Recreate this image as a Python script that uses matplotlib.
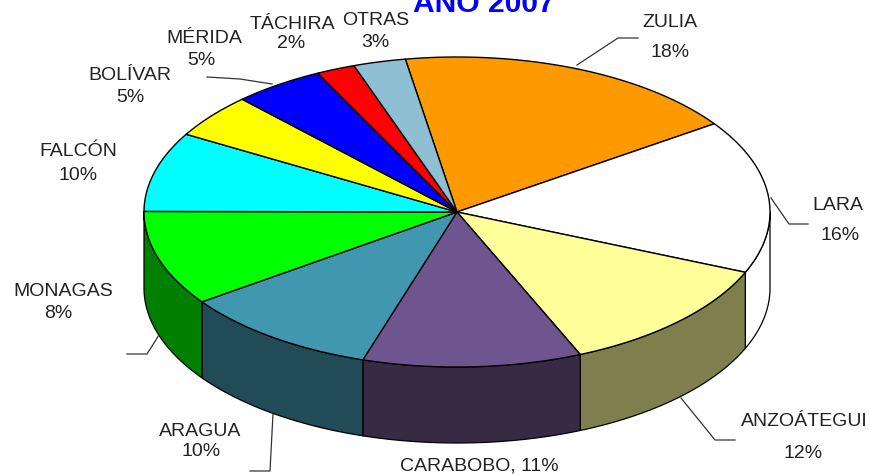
"""3D-looking pie of states, year 2007, drawn on a pixel-sized axes."""
import matplotlib
matplotlib.use("Agg")

import numpy as np
import matplotlib.pyplot as plt

plt.rcParams["font.family"] = ["Liberation Sans", "DejaVu Sans"]

STATES = ["ZULIA", "LARA", "ANZOÁTEGUI", "CARABOBO", "ARAGUA", "MONAGAS",
          "FALCÓN", "BOLÍVAR", "MÉRIDA", "TÁCHIRA", "OTRAS"]
PRINTED_PCT = [18, 16, 12, 11, 10, 8, 10, 5, 5, 2, 3]
# slice sizes as drawn, they differ a little from the printed labels
SLICE_SHARE = [18, 16, 12.2, 11.3, 10.3, 9.9, 8.3, 4.6, 4.7, 2, 2.7]
TOP_COLORS = ["#FF9900", "#FFFFFF", "#FFFF99", "#6F5590", "#4196B0", "#00FF00",
              "#00FFFF", "#FFFF00", "#0000FF", "#FF0000", "#8FBFD3"]
SIDE_COLORS = ["#7F4C00", "#FFFFFF", "#7F7F4D", "#382A45", "#224B58", "#007F00",
               "#007F7F", "#7F7F00", "#00007F", "#7F0000", "#48606A"]

CX, CY = 457, 212      # pie centre, px
RX, RY = 313, 155      # top ellipse radii
DEPTH = 76             # wall height
START_DEG = 99.5       # slices run clockwise from here

LABEL_POS = {          # name xy, pct xy
    "ZULIA": ((670, 22), (670, 52)),
    "LARA": ((838, 206), (840, 235)),
    "ANZOÁTEGUI": ((804, 422), (803, 453)),
    "ARAGUA": ((200, 431), (201, 451)),
    "MONAGAS": ((63, 292), (58, 314)),
    "FALCÓN": ((78, 152), (78, 176)),
    "BOLÍVAR": ((130, 75), (130, 97)),
    "MÉRIDA": ((204, 38), (201, 60)),
    "TÁCHIRA": ((292, 24), (291, 43)),
    "OTRAS": ((376, 20), (375, 42)),
}
LEADERS = [
    [(577, 65), (618, 38), (638, 38)],
    [(771, 198), (789, 224), (808, 224)],
    [(681, 398), (715, 440), (735, 440)],
    [(273, 414), (270, 471), (250, 471)],
    [(159, 335), (147, 354), (127, 354)],
    [(207, 77), (240, 79), (272, 84)],
]


def ellipse_xy(deg, dy=0):
    t = np.radians(deg)
    return CX + RX * np.cos(t), CY - RY * np.sin(t) + dy


fig = plt.figure(figsize=(8.7, 4.74), dpi=100)
ax = fig.add_axes([0, 0, 1, 1])
ax.set_xlim(0, 870)
ax.set_ylim(474, 0)
ax.axis("off")

edges = START_DEG - np.cumsum([0] + SLICE_SHARE) / sum(SLICE_SHARE) * 360

# walls first, only the front half of the rim (-180..0) is visible
for i in range(len(STATES)):
    a0 = min(edges[i], 0)
    a1 = max(edges[i + 1], -180)
    if a1 >= a0:
        continue
    ts = np.linspace(a0, a1, 80)
    xu, yu = ellipse_xy(ts)
    xl, yl = ellipse_xy(ts, DEPTH)
    ax.fill(np.r_[xu, xl[::-1]], np.r_[yu, yl[::-1]], fc=SIDE_COLORS[i],
            ec="black", lw=0.9, joinstyle="round")

# top face
for i in range(len(STATES)):
    ts = np.linspace(edges[i], edges[i + 1], 80)
    x, y = ellipse_xy(ts)
    ax.fill(np.r_[CX, x], np.r_[CY, y], fc=TOP_COLORS[i], ec="black", lw=1.0,
            joinstyle="round")

for pts in LEADERS:
    xs, ys = zip(*pts)
    ax.plot(xs, ys, color="#333333", lw=0.9)

TXT = dict(fontsize=14, color="#222222", ha="center", va="center")
for name, pct in zip(STATES, PRINTED_PCT):
    if name == "CARABOBO":
        ax.text(479, 466, f"{name}, {pct}%", **TXT)
        continue
    name_xy, pct_xy = LABEL_POS[name]
    ax.text(*name_xy, name, **TXT)
    ax.text(*pct_xy, f"{pct}%", **TXT)

ax.text(484, 12, "AÑO 2007", fontsize=21.6, fontweight="bold", color="#0000FF",
        ha="center", va="baseline")

fig.savefig("out.png", dpi=100)
